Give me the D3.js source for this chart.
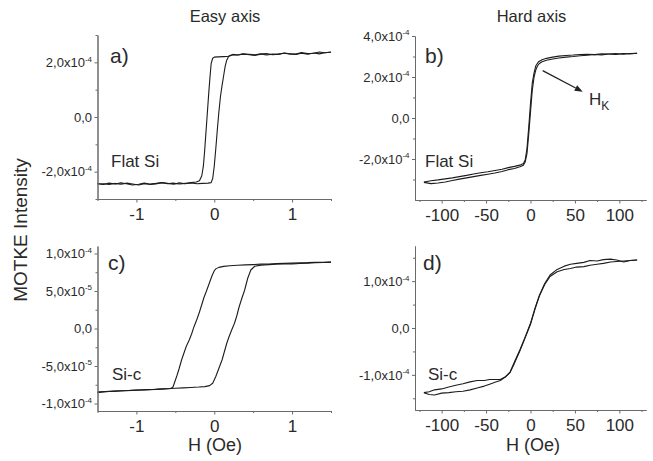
<!DOCTYPE html>
<html><head><meta charset="utf-8">
<script src="https://cdn.jsdelivr.net/npm/d3@7"></script>
<style>body{margin:0;background:#fff}svg{display:block}</style>
</head><body><svg id="c" width="653" height="461"></svg>
<script>
// ---------- DATA (M in units of 1e-4) ----------
// Panel a) Easy axis, Flat Si
const aDownH = [1.5,1.42,1.35,1.28,1.2,1.12,1.05,0.97,0.9,0.82,0.75,0.67,0.6,0.52,0.45,0.37,0.3,0.24,0.19,0.12,0.05,0.0,-0.02,-0.04,-0.055,-0.07,-0.085,-0.095,-0.11,-0.125,-0.14,-0.16,-0.19,-0.23,-0.3,-0.37,-0.45,-0.52,-0.6,-0.67,-0.75,-0.82,-0.9,-0.97,-1.05,-1.12,-1.2,-1.28,-1.35,-1.42,-1.5];
const aDownM = [2.37,2.35,2.38,2.33,2.32,2.36,2.30,2.31,2.34,2.29,2.30,2.27,2.31,2.28,2.29,2.30,2.27,2.28,2.22,2.21,2.20,2.19,2.15,1.95,1.45,0.9,0.3,-0.1,-0.7,-1.3,-1.8,-2.15,-2.33,-2.38,-2.40,-2.44,-2.41,-2.46,-2.43,-2.40,-2.45,-2.47,-2.44,-2.49,-2.45,-2.42,-2.46,-2.43,-2.47,-2.44,-2.45];
const aUpH = [-1.5,-1.43,-1.35,-1.27,-1.2,-1.13,-1.05,-0.97,-0.9,-0.83,-0.75,-0.67,-0.6,-0.53,-0.45,-0.37,-0.3,-0.22,-0.15,-0.08,-0.04,-0.02,0.0,0.02,0.04,0.06,0.08,0.1,0.12,0.14,0.16,0.19,0.24,0.3,0.37,0.45,0.52,0.6,0.67,0.75,0.82,0.9,0.97,1.05,1.12,1.2,1.28,1.35,1.42,1.5];
const aUpM = [-2.43,-2.47,-2.42,-2.45,-2.41,-2.44,-2.49,-2.46,-2.42,-2.45,-2.43,-2.40,-2.44,-2.42,-2.45,-2.43,-2.41,-2.44,-2.43,-2.42,-2.40,-2.25,-1.8,-1.15,-0.45,0.2,0.75,1.15,1.5,1.85,2.08,2.24,2.29,2.27,2.31,2.28,2.25,2.30,2.32,2.28,2.30,2.33,2.31,2.29,2.33,2.30,2.34,2.31,2.35,2.38];

// Panel b) Hard axis, Flat Si
const bDownH = [120,112,104,96,88,80,72,64,56,48,40,32,25,18,13,9,6,4,2,0,-2,-4,-6,-8,-12,-18,-25,-32,-40,-48,-56,-64,-72,-80,-88,-96,-104,-112,-120];
const bDownM = [3.16,3.13,3.15,3.10,3.12,3.13,3.09,3.11,3.10,3.07,3.05,3.02,2.97,2.91,2.84,2.74,2.55,2.2,1.7,0.7,-0.45,-1.5,-2.05,-2.22,-2.30,-2.36,-2.42,-2.50,-2.56,-2.62,-2.67,-2.73,-2.80,-2.86,-2.92,-2.97,-3.02,-3.06,-3.12];
const bUpH = [-120,-112,-104,-96,-88,-80,-72,-64,-56,-48,-40,-32,-25,-18,-12,-8,-6,-4,-2,0,2,4,6,8,10,13,18,25,32,40,48,56,64,72,80,88,96,104,112,120];
const bUpM = [-3.14,-3.20,-3.17,-3.12,-3.05,-2.98,-2.92,-2.86,-2.80,-2.74,-2.68,-2.61,-2.52,-2.46,-2.38,-2.3,-2.15,-1.75,-0.8,0.3,1.35,2.0,2.35,2.55,2.66,2.74,2.82,2.88,2.93,2.97,3.00,3.04,3.06,3.10,3.08,3.12,3.14,3.11,3.15,3.16];

// Panel c) Easy axis, Si-c
const cDownH = [1.5,1.4,1.3,1.2,1.1,1.0,0.9,0.8,0.7,0.6,0.5,0.4,0.3,0.2,0.12,0.06,0.02,0.0,-0.03,-0.065,-0.1,-0.13,-0.16,-0.19,-0.22,-0.26,-0.29,-0.32,-0.36,-0.39,-0.42,-0.45,-0.48,-0.51,-0.53,-0.56,-0.65,-0.75,-0.85,-0.95,-1.05,-1.15,-1.25,-1.35,-1.45,-1.5];
const cDownM = [0.885,0.882,0.884,0.878,0.875,0.872,0.868,0.866,0.861,0.858,0.852,0.848,0.843,0.836,0.828,0.815,0.795,0.77,0.70,0.60,0.50,0.42,0.32,0.22,0.13,0.024,-0.07,-0.15,-0.24,-0.33,-0.42,-0.53,-0.63,-0.72,-0.78,-0.80,-0.805,-0.812,-0.815,-0.82,-0.825,-0.83,-0.835,-0.84,-0.85,-0.855];
const cUpH = [-1.5,-1.4,-1.3,-1.2,-1.1,-1.0,-0.9,-0.8,-0.7,-0.6,-0.5,-0.4,-0.3,-0.2,-0.12,-0.06,-0.02,0.02,0.06,0.1,0.13,0.16,0.19,0.22,0.26,0.29,0.32,0.36,0.39,0.43,0.47,0.52,0.6,0.7,0.8,0.9,1.0,1.1,1.2,1.3,1.4,1.5];
const cUpM = [-0.845,-0.84,-0.835,-0.83,-0.826,-0.822,-0.818,-0.813,-0.808,-0.803,-0.797,-0.792,-0.786,-0.781,-0.775,-0.762,-0.73,-0.64,-0.53,-0.42,-0.31,-0.2,-0.11,-0.03,0.07,0.17,0.29,0.42,0.51,0.67,0.78,0.83,0.845,0.852,0.856,0.86,0.862,0.866,0.872,0.876,0.88,0.885];

// Panel d) Hard axis, Si-c
const dDownH = [120,112,105,97,90,82,75,67,60,52,45,38,30,22,16,10,5,0,-6,-12,-18,-23,-28,-34,-40,-46,-52,-60,-68,-76,-84,-92,-100,-108,-114,-120];
const dDownM = [1.45,1.44,1.41,1.45,1.47,1.46,1.43,1.44,1.40,1.38,1.36,1.32,1.25,1.13,0.95,0.70,0.42,0.10,-0.19,-0.47,-0.72,-0.94,-1.04,-1.10,-1.10,-1.10,-1.12,-1.12,-1.15,-1.19,-1.22,-1.26,-1.30,-1.32,-1.36,-1.38];
const dUpH = [-120,-114,-108,-100,-92,-84,-76,-68,-60,-52,-46,-40,-34,-28,-23,-18,-12,-6,0,5,10,16,22,30,38,45,52,60,67,75,82,90,97,105,112,120];
const dUpM = [-1.38,-1.42,-1.43,-1.39,-1.38,-1.36,-1.35,-1.32,-1.28,-1.24,-1.2,-1.16,-1.12,-1.04,-0.95,-0.75,-0.49,-0.21,0.08,0.40,0.68,0.93,1.10,1.20,1.25,1.27,1.30,1.31,1.34,1.36,1.38,1.41,1.42,1.43,1.44,1.45];

// Tick values and labels
const easyXTicks = [-1, 0, 1];
const easyXLabels = ["-1", "0", "1"];
const easyXMinor = [-1.5, -0.5, 0.5, 1.5];
const hardXTicks = [-100, -50, 0, 50, 100];
const hardXLabels = ["-100", "-50", "0", "50", "100"];
const hardXMinor = [-125, -75, -25, 25, 75, 125];

const aYTicks = [-2, 0, 2];
const aYLabels = [["-2,0x10","-4"], ["0,0",""], ["2,0x10","-4"]];
const aYMinor = [-3, -1, 1, 3];
const bYTicks = [-2, 0, 2, 4];
const bYLabels = [["-2,0x10","-4"], ["0,0",""], ["2,0x10","-4"], ["4,0x10","-4"]];
const bYMinor = [-3, -1, 1, 3];
const cYTicks = [-1, -0.5, 0, 0.5, 1];
const cYLabels = [["-1,0x10","-4"], ["-5,0x10","-5"], ["0,0",""], ["5,0x10","-5"], ["1,0x10","-4"]];
const cYMinor = [-0.75, -0.25, 0.25, 0.75];
const dYTicks = [-1, 0, 1];
const dYLabels = [["-1,0x10","-4"], ["0,0",""], ["1,0x10","-4"]];
const dYMinor = [-1.5, -0.5, 0.5, 1.5];

const columnTitles = ["Easy axis", "Hard axis"];
const yAxisTitle = "MOTKE Intensity";
const xAxisTitle = "H (Oe)";
const panelLetters = ["a)", "b)", "c)", "d)"];
const sampleNames = ["Flat Si", "Flat Si", "Si-c", "Si-c"];
// H_K arrow in panel b data units: [H, M]
const hkArrow = [[13.7, 2.31], [58.8, 1.28]];

// ---------- DRAWING ----------
const FONT = "'Liberation Sans', Arial, Helvetica, sans-serif";
const AX = "#6a6a6a", TXT = "#2a2a2a", LINE = "#1c1c1c";
const svg = d3.select("#c");
svg.append("rect").attr("width",653).attr("height",461).attr("fill","#fff");

const panels = [
  {xr:[97.5,331], yr:[199,35], xd:[-1.5,1.5], yd:[-3,3],
   xt:easyXTicks, xl:easyXLabels, xm:easyXMinor, yt:aYTicks, yl:aYLabels, ym:aYMinor,
   branches:[[aDownH,aDownM],[aUpH,aUpM]], letter:panelLetters[0], name:sampleNames[0],
   lp:[110,63], np:[111,166.5]},
  {xr:[415,646], yr:[200,36], xd:[-130,130], yd:[-4,4],
   xt:hardXTicks, xl:hardXLabels, xm:hardXMinor, yt:bYTicks, yl:bYLabels, ym:bYMinor,
   branches:[[bDownH,bDownM],[bUpH,bUpM]], letter:panelLetters[1], name:sampleNames[1],
   lp:[425,63], np:[425,166.5]},
  {xr:[97.5,331], yr:[411,246], xd:[-1.5,1.5], yd:[-1.1,1.1],
   xt:easyXTicks, xl:easyXLabels, xm:easyXMinor, yt:cYTicks, yl:cYLabels, ym:cYMinor,
   branches:[[cDownH,cDownM],[cUpH,cUpM]], letter:panelLetters[2], name:sampleNames[2],
   lp:[108,270], np:[112,380]},
  {xr:[415,646], yr:[410,246], xd:[-130,130], yd:[-1.75,1.75],
   xt:hardXTicks, xl:hardXLabels, xm:hardXMinor, yt:dYTicks, yl:dYLabels, ym:dYMinor,
   branches:[[dDownH,dDownM],[dUpH,dUpM]], letter:panelLetters[3], name:sampleNames[3],
   lp:[423,270], np:[428,380]}
];

function styleAxis(g){
  g.select(".domain").attr("stroke",AX).attr("stroke-width",1);
  g.selectAll(".tick line").attr("stroke",AX).attr("stroke-width",1);
  g.selectAll("text").attr("fill",TXT).attr("font-family",FONT);
}

const scales = [];
panels.forEach((p, pi) => {
  const x = d3.scaleLinear().domain(p.xd).range(p.xr);
  const y = d3.scaleLinear().domain(p.yd).range(p.yr);
  scales.push({x,y});
  const g = svg.append("g");

  // curves
  const line = d3.line().x(d => x(d[0])).y(d => y(d[1]));
  p.branches.forEach(br => {
    g.append("path").datum(d3.zip(br[0], br[1]))
      .attr("d", line).attr("fill","none").attr("stroke",LINE)
      .attr("stroke-width",1.1).attr("stroke-linejoin","round");
  });

  // x axis
  const xg = g.append("g").attr("transform",`translate(0,${p.yr[0]})`);
  xg.append("g").call(d3.axisBottom(x).tickValues(p.xm).tickSize(2).tickSizeOuter(0).tickFormat("")).call(styleAxis);
  xg.append("g").call(d3.axisBottom(x).tickValues(p.xt).tickSize(3.5).tickPadding(5).tickSizeOuter(0)
      .tickFormat((d,i) => p.xl[i])).call(styleAxis)
    .selectAll("text").attr("font-size","17px");

  // y axis
  const yg = g.append("g").attr("transform",`translate(${p.xr[0]},0)`);
  yg.append("g").call(d3.axisLeft(y).tickValues(p.ym).tickSize(2).tickSizeOuter(0).tickFormat("")).call(styleAxis);
  const ya = yg.append("g").call(d3.axisLeft(y).tickValues(p.yt).tickSize(3).tickPadding(2.5).tickSizeOuter(0)
      .tickFormat((d,i) => p.yl[i][0])).call(styleAxis);
  ya.selectAll(".tick text").each(function(d, i){
    const t = d3.select(this);
    const lab = p.yl[i];
    t.text(null).attr("font-size","13px");
    t.append("tspan").text(lab[0]);
    if (lab[1]) t.append("tspan").attr("font-size","8px").attr("dy","-0.65em").text(lab[1]);
  });

  // panel letter & sample name
  g.append("text").attr("x",p.lp[0]).attr("y",p.lp[1]).attr("font-family",FONT)
    .attr("font-size","21px").attr("fill",TXT).text(p.letter);
  g.append("text").attr("x",p.np[0]).attr("y",p.np[1]).attr("font-family",FONT)
    .attr("font-size","17px").attr("fill",TXT).text(p.name);
});

// column titles
svg.append("text").attr("x",225).attr("y",22).attr("text-anchor","middle")
  .attr("font-family",FONT).attr("font-size","16.5px").attr("fill",TXT).text(columnTitles[0]);
svg.append("text").attr("x",531.5).attr("y",22).attr("text-anchor","middle")
  .attr("font-family",FONT).attr("font-size","16.5px").attr("fill",TXT).text(columnTitles[1]);

// y axis title
svg.append("text").attr("transform","translate(26.5,230) rotate(-90)").attr("text-anchor","middle")
  .attr("font-family",FONT).attr("font-size","19px").attr("fill",TXT).text(yAxisTitle);

// x axis titles
svg.append("text").attr("x",215).attr("y",451).attr("text-anchor","middle")
  .attr("font-family",FONT).attr("font-size","18px").attr("fill",TXT).text(xAxisTitle);
svg.append("text").attr("x",533).attr("y",451).attr("text-anchor","middle")
  .attr("font-family",FONT).attr("font-size","18px").attr("fill",TXT).text(xAxisTitle);

// H_K arrow (panel b)
const sb = scales[1];
const ax0 = sb.x(hkArrow[0][0]), ay0 = sb.y(hkArrow[0][1]);
const ax1 = sb.x(hkArrow[1][0]), ay1 = sb.y(hkArrow[1][1]);
const ang = Math.atan2(ay1-ay0, ax1-ax0);
const hl = 8, hw = 3.2;
const bx = ax1 - hl*Math.cos(ang), by = ay1 - hl*Math.sin(ang);
svg.append("line").attr("x1",ax0).attr("y1",ay0).attr("x2",bx).attr("y2",by)
  .attr("stroke","#222").attr("stroke-width",1.3);
svg.append("path").attr("d",`M${ax1},${ay1}L${bx - hw*Math.sin(ang)},${by + hw*Math.cos(ang)}L${bx + hw*Math.sin(ang)},${by - hw*Math.cos(ang)}Z`)
  .attr("fill","#222");
const hk = svg.append("text").attr("x",589).attr("y",105).attr("font-family",FONT)
  .attr("font-size","17px").attr("fill",TXT);
hk.append("tspan").text("H");
hk.append("tspan").attr("font-size","12px").attr("dy","5").text("K");
</script></body></html>
